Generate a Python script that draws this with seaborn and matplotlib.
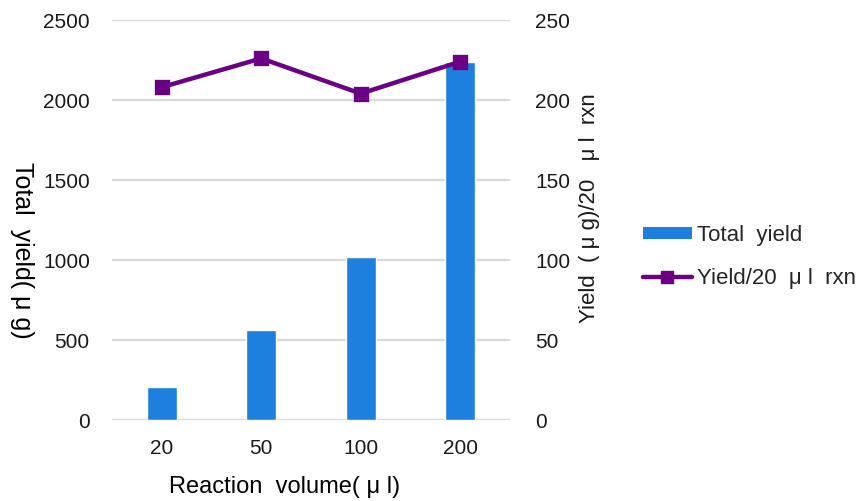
import matplotlib
matplotlib.use("Agg")
import matplotlib.pyplot as plt
from matplotlib.lines import Line2D
from matplotlib.patches import Patch
import seaborn as sns
import pandas as pd

# Reaction volumes (µl) and measured yields
volumes = ["20", "50", "100", "200"]
total_yield = [208, 565, 1020, 2240]          # µg, left axis
yield_per_20ul = [208, 226, 204, 224]         # µg per 20 µl reaction, right axis

left_ticks = [0, 500, 1000, 1500, 2000, 2500]
right_ticks = [0, 50, 100, 150, 200, 250]

bar_color = "#1E80DE"
line_color = "#6C0085"
grid_color = "#D9D9D9"
text_color = "#1A1A1A"

sns.set_theme(style="white")
plt.rcParams["font.family"] = ["Liberation Sans", "DejaVu Sans"]

df = pd.DataFrame({"volume": volumes, "total": total_yield, "per20": yield_per_20ul})

fig = plt.figure(figsize=(8.59, 5.01), dpi=100)
ax = fig.add_axes([112 / 859, 1 - 420 / 501, 398 / 859, 400 / 501])

sns.barplot(data=df, x="volume", y="total", color=bar_color, saturation=1,
            width=0.3, ax=ax, zorder=3)
ax.set_ylim(0, 2500)
ax.set_yticks(left_ticks)
ax.set_xlim(-0.5, 3.5)
ax.yaxis.grid(True, color=grid_color, linewidth=1.6, zorder=0)
ax.set_axisbelow(True)
ax.set_xlabel("")
ax.set_ylabel("")
ax.tick_params(axis="both", length=0, labelsize=15, colors=text_color)
ax.tick_params(axis="x", pad=14)
ax.tick_params(axis="y", pad=16)
for s in ax.spines.values():
    s.set_visible(False)

ax2 = ax.twinx()
sns.pointplot(data=df, x="volume", y="per20", color=line_color, markers="s",
              linestyles="-", markersize=9, linewidth=3.2, ax=ax2)
ax2.set_ylim(0, 250)
ax2.set_yticks(right_ticks)
ax2.set_xlim(-0.5, 3.5)
ax2.set_ylabel("")
ax2.set_xlabel("")
ax2.tick_params(axis="y", length=0, labelsize=15, colors=text_color, pad=18)
for s in ax2.spines.values():
    s.set_visible(False)

fig.text(285 / 859, 1 - 487 / 501, "Reaction  volume( μ l)", ha="center", va="center",
         fontsize=17, color="black")
fig.text(22 / 859, 1 - 250 / 501, "Total  yield( μ g)", ha="center", va="center",
         rotation=-90, fontsize=18, color="black")
fig.text(590 / 859, 1 - 208 / 501, "Yield  ( μ g)/20   μ l  rxn", ha="center", va="center",
         rotation=90, fontsize=16, color=text_color)

handles = [
    Patch(facecolor=bar_color, edgecolor="none"),
    Line2D([0], [0], color=line_color, linewidth=3.2, marker="s", markersize=9),
]
fig.legend(handles, ["Total  yield", "Yield/20  μ l  rxn"],
           loc="center left", bbox_to_anchor=(634 / 859, 1 - 257 / 501),
           frameon=False, fontsize=16, handlelength=2.2, handleheight=0.5,
           labelspacing=1.0, handletextpad=0.25, borderaxespad=0)

fig.savefig("out.png", dpi=100)
